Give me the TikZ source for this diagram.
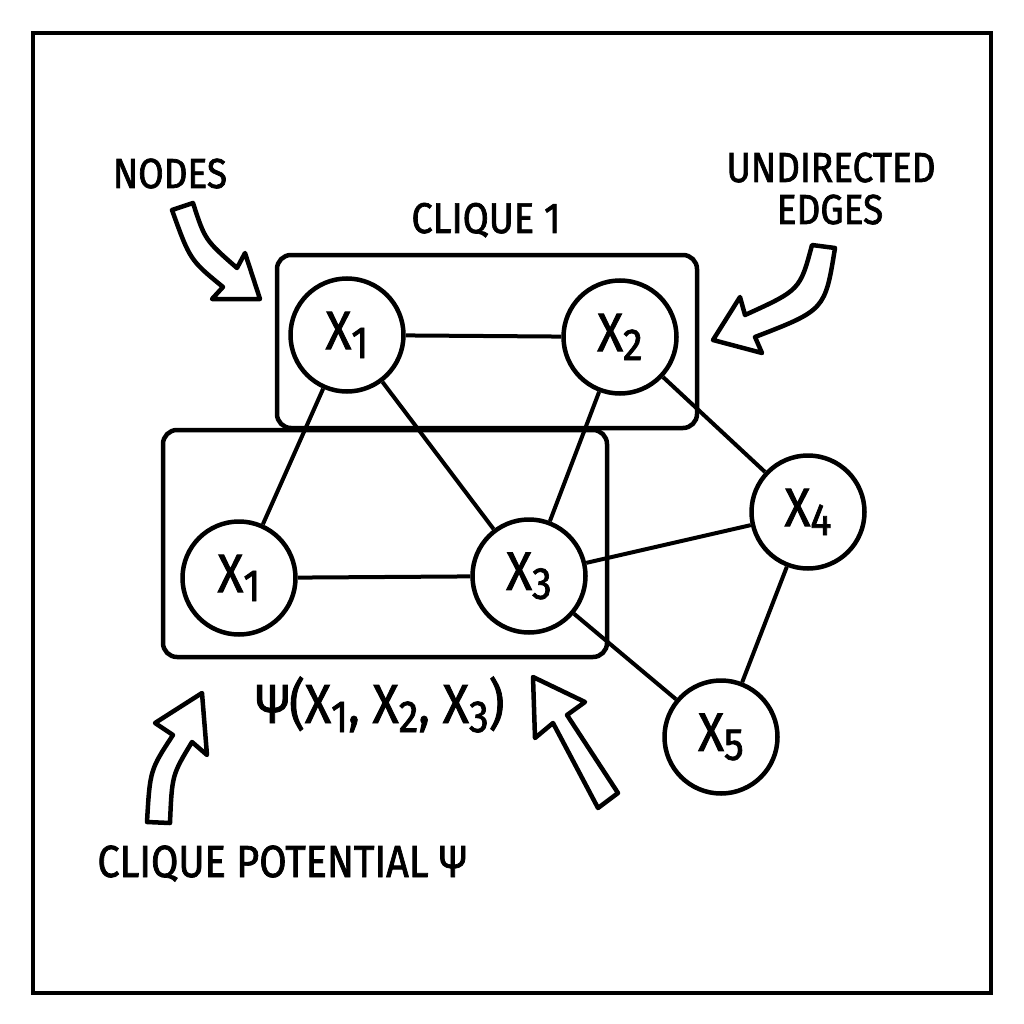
\documentclass[tikz,border=0pt]{standalone}
\usepackage{fontspec}
\setmainfont[FakeStretch=0.88,FakeBold=1.6]{Fira Sans}
\newcommand\Xsub[1]{X\raisebox{-9pt}{\fontsize{45}{45}\selectfont #1}}
\begin{document}
\begin{tikzpicture}[x=1pt,y=-1pt,
  frame/.style={line width=4pt},
  vnode/.style={circle,draw,fill=white,line width=4.5pt,minimum size=113pt,inner sep=0pt,font=\fontsize{54}{54}\selectfont},
  edge/.style={line width=4pt},
  clique/.style={line width=4.5pt,rounded corners=14pt},
  blockarrow/.style={line width=4.5pt,line join=round,fill=white},
  lbl/.style={inner sep=0pt,anchor=base,font=\fontsize{42}{42}\selectfont},
]
\fill[white] (0,0) rectangle (1024,1024);
\draw[frame] (33,33) rectangle (991,993);

% clique boxes
\draw[clique] (277,255) rectangle (697,428);
\draw[clique] (163,430) rectangle (607,657);

% variable nodes
\node[vnode] (x1t) at (347,335) {\Xsub{1}};
\node[vnode] (x2) at (620,337) {\Xsub{2}};
\node[vnode] (x1b) at (239,578) {\Xsub{1}};
\node[vnode] (x3) at (529,576) {\Xsub{3}};
\node[vnode] (x4) at (808,512) {\Xsub{4}};
\node[vnode] (x5) at (721,737) {\Xsub{5}};

% undirected edges
\draw[edge] (x1t) -- (x2);
\draw[edge] (x1t) -- (x1b);
\draw[edge] (x1t) -- (x3);
\draw[edge] (x2) -- (x3);
\draw[edge] (x2) -- (x4);
\draw[edge] (x1b) -- (x3);
\draw[edge] (x3) -- (x4);
\draw[edge] (x3) -- (x5);
\draw[edge] (x4) -- (x5);

% labels
\node[lbl] (nodes) at (170,188) {NODES};
\node[lbl,font=\fontsize{43}{43}\selectfont] (cl1) at (486,233) {CLIQUE 1};
\node[lbl,font=\fontsize{42}{42}\selectfont] (und) at (831,182) {UNDIRECTED};
\node[lbl,font=\fontsize{42}{42}\selectfont] (edg) at (830,224) {EDGES};
\node[lbl,font=\fontsize{55}{55}\selectfont] (psi) at (380,723) {Ψ(\Xsub{1}, \Xsub{2}, \Xsub{3})};
\node[lbl,font=\fontsize{45}{45}\selectfont] (cp) at (282,877) {CLIQUE POTENTIAL Ψ};

% block arrows
\draw[blockarrow] (172,210) -- (193,203) .. controls (205,240) .. (237,268) -- (245,253) -- (260,299) -- (212,299) -- (223,287) .. controls (190,260) .. (172,210) -- cycle;
\draw[blockarrow] (812,245) -- (835,248) .. controls (825,310) .. (755,337) -- (762,353) -- (713,340) -- (740,297) -- (745,315) .. controls (800,290) .. (812,245) -- cycle;
\draw[blockarrow] (147,822) -- (170,823) .. controls (172,775) .. (192,742) -- (207,755) -- (202,693) -- (155,723) -- (173,735) .. controls (150,770) .. (147,822) -- cycle;
\draw[blockarrow] (598,808) -- (618,793) -- (567,715) -- (585,702) -- (533,677) -- (535,738) -- (553,723) -- cycle;
\end{tikzpicture}
\end{document}
